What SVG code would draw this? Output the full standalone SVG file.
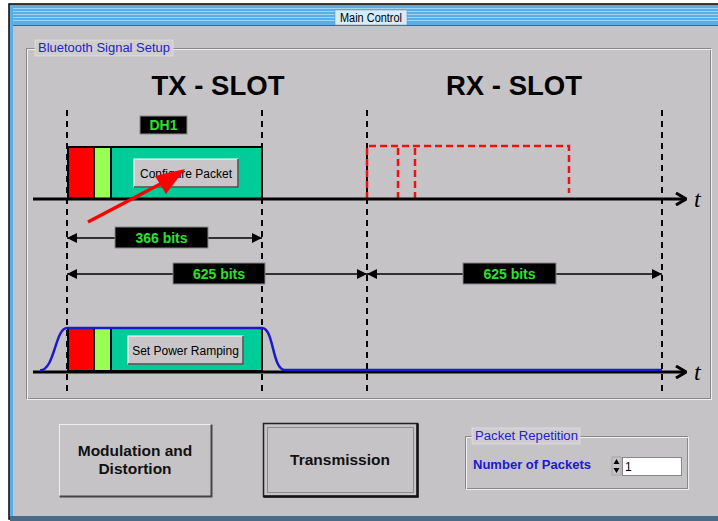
<svg xmlns="http://www.w3.org/2000/svg" width="718" height="521" viewBox="0 0 718 521">
<style>
.ui{font-family:"Liberation Sans",Arial,sans-serif}
.slot{font-family:"Liberation Sans",Arial,sans-serif;font-weight:bold;font-size:27.5px;fill:#000}
.dash{stroke:#000;stroke-width:2;stroke-dasharray:6,5}
.axis{stroke:#000;stroke-width:3}
.dim{stroke:#000;stroke-width:1.5}
.lbl{fill:#000;stroke:#888;stroke-width:1}
.lbltxt{font-family:"Liberation Sans",Arial,sans-serif;font-weight:bold;font-size:14px;fill:#2ee02e;text-anchor:middle}
.btntxt{font-family:"Liberation Sans",Arial,sans-serif;font-size:12px;fill:#000;text-anchor:middle}
.big{font-family:"Liberation Sans",Arial,sans-serif;font-weight:bold;font-size:15.5px;fill:#111;text-anchor:middle}
.pk{stroke:#000;stroke-width:2}
.tt{font-family:"Liberation Serif",serif;font-style:italic;font-size:24px;fill:#000}
</style>
<defs>
<marker id="ah" viewBox="0 0 10 10" refX="10" refY="5" markerWidth="10" markerHeight="10" markerUnits="userSpaceOnUse" orient="auto"><path d="M0,0 L10,5 L0,10 z" fill="#000"/></marker>
<marker id="ahs" viewBox="0 0 10 10" refX="10" refY="5" markerWidth="10" markerHeight="10" markerUnits="userSpaceOnUse" orient="auto-start-reverse"><path d="M0,0 L10,5 L0,10 z" fill="#000"/></marker>
<marker id="ta" viewBox="0 0 12 14" refX="11" refY="7" markerWidth="12" markerHeight="14" markerUnits="userSpaceOnUse" orient="auto"><path d="M1,1 L11,7 L1,13" fill="none" stroke="#000" stroke-width="3"/></marker>
</defs>
<rect width="718" height="521" fill="#fff"/>
<g id="window">
<rect x="9" y="4" width="712" height="515" fill="#c6c3c6" stroke="#000" stroke-width="1.5"/>
<rect x="10" y="5" width="708" height="21" fill="#5aaee8"/>
<g stroke="#9fd6f8" stroke-width="1">
<line x1="10" y1="8.5" x2="718" y2="8.5"/><line x1="10" y1="11.5" x2="718" y2="11.5"/><line x1="10" y1="14.5" x2="718" y2="14.5"/><line x1="10" y1="17.5" x2="718" y2="17.5"/><line x1="10" y1="20.5" x2="718" y2="20.5"/>
</g>
<line x1="10" y1="25.5" x2="718" y2="25.5" stroke="#3a6a90" stroke-width="1"/>
<rect x="10" y="5" width="3" height="514" fill="#5aaee8"/>
<rect x="10" y="516" width="708" height="5" fill="#4a6a88"/>
<rect x="335" y="10" width="72" height="15" fill="#d8ecf8" stroke="#6a8aa8" stroke-width="0.5"/>
<text x="371" y="22" class="ui" font-size="12" text-anchor="middle" fill="#000" textLength="62" lengthAdjust="spacingAndGlyphs">Main Control</text>
</g>
<g id="signal-setup">
<rect x="26.5" y="48.5" width="684" height="350" fill="none" stroke="#8a888a" stroke-width="1"/>
<rect x="27.5" y="49.5" width="684" height="350" fill="none" stroke="#eee" stroke-width="1"/>
<rect x="35" y="40" width="138" height="16" fill="#cfcdd2" stroke="#eee" stroke-width="0.5"/>
<text x="38" y="52" class="ui" font-size="12.5" fill="#2222cc" textLength="132" lengthAdjust="spacingAndGlyphs">Bluetooth Signal Setup</text>
<text x="218" y="95" class="slot" text-anchor="middle">TX - SLOT</text>
<text x="514" y="95" class="slot" text-anchor="middle">RX - SLOT</text>
</g>
<g id="boundaries">
<line x1="67" y1="110" x2="67" y2="392" class="dash"/>
<line x1="262" y1="110" x2="262" y2="392" class="dash"/>
<line x1="367" y1="110" x2="367" y2="392" class="dash"/>
<line x1="662" y1="110" x2="662" y2="392" class="dash"/>
</g>
<g id="tx-packet">
<rect x="111" y="147" width="151" height="52" fill="#00cc99" class="pk"/>
<rect x="68" y="147" width="26" height="52" fill="#ff0000" class="pk"/>
<rect x="94" y="147" width="17" height="52" fill="#99ff55" class="pk"/>
</g>
<g id="dh1">
<rect x="140" y="116" width="47" height="18" class="lbl"/>
<text x="163.5" y="130" class="lbltxt">DH1</text>
</g>
<g id="configure-packet">
<rect x="134" y="159" width="104" height="28" fill="#c8c6c8" stroke="#fff" stroke-width="1"/>
<path d="M238,159 V187 H134" fill="none" stroke="#444" stroke-width="1.5"/>
<text x="186" y="178" class="btntxt">Configure Packet</text>
</g>
<g id="rx-packet" fill="none" stroke="#ee1111" stroke-width="2.5" stroke-dasharray="7,4">
<path d="M367,199 V146 H569 V193"/>
<line x1="398" y1="148" x2="398" y2="199"/>
<line x1="415" y1="148" x2="415" y2="199"/>
</g>
<g id="axis-top">
<line x1="33" y1="199" x2="686" y2="199" class="axis" marker-end="url(#ta)"/>
<text x="694" y="207" class="tt">t</text>
</g>
<g id="pointer">
<line x1="88" y1="222" x2="168" y2="180" stroke="#ff0000" stroke-width="3.5"/>
<path d="M185,169 L155,176 L166,194 z" fill="#ff0000"/>
</g>
<g id="connectors">
<line x1="67" y1="238" x2="262" y2="238" class="dim" marker-start="url(#ahs)" marker-end="url(#ah)"/>
<line x1="67" y1="274" x2="367" y2="274" class="dim" marker-start="url(#ahs)" marker-end="url(#ah)"/>
<line x1="367" y1="274" x2="662" y2="274" class="dim" marker-start="url(#ahs)" marker-end="url(#ah)"/>
</g>
<g id="dim-366">
<rect x="115" y="227" width="93" height="21" class="lbl"/>
<text x="161.5" y="243" class="lbltxt">366 bits</text>
</g>
<g id="dim-625-tx">
<rect x="173" y="263" width="92" height="21" class="lbl"/>
<text x="219" y="279" class="lbltxt">625 bits</text>
</g>
<g id="dim-625-rx">
<rect x="463" y="263" width="93" height="21" class="lbl"/>
<text x="509.5" y="279" class="lbltxt">625 bits</text>
</g>
<g id="ramp-packet">
<rect x="111" y="328" width="151" height="43" fill="#00cc99" class="pk"/>
<rect x="68" y="328" width="26" height="43" fill="#ff0000" class="pk"/>
<rect x="94" y="328" width="17" height="43" fill="#99ff55" class="pk"/>
</g>
<g id="set-power-ramping">
<rect x="128" y="336" width="115" height="28" fill="#c8c6c8" stroke="#fff" stroke-width="1"/>
<path d="M243,336 V364 H128" fill="none" stroke="#444" stroke-width="1.5"/>
<text x="185.5" y="355" class="btntxt">Set Power Ramping</text>
</g>
<g id="axis-bottom">
<line x1="33" y1="372" x2="686" y2="372" class="axis" marker-end="url(#ta)"/>
<path d="M40,370.5 C55,370 55,328 67,328 L262,328 C274,328 272,370 285,370 L662,370" fill="none" stroke="#1a1acc" stroke-width="2.5"/>
<text x="694" y="380" class="tt">t</text>
</g>
<g id="btn-modulation">
<rect x="59.5" y="424.5" width="152" height="72" fill="#c6c3c6" stroke="#eee" stroke-width="1"/>
<path d="M211.5,424.5 V496.5 H59.5" fill="none" stroke="#444" stroke-width="2"/>
<text x="135" y="456" class="big">Modulation and</text>
<text x="135" y="474" class="big">Distortion</text>
</g>
<g id="btn-transmission">
<rect x="263.5" y="423.5" width="154" height="73" fill="#c6c3c6" stroke="#222" stroke-width="1.5"/>
<path d="M417.5,423.5 V496.5 H263.5" fill="none" stroke="#111" stroke-width="2.5"/>
<rect x="267.5" y="427.5" width="146" height="65" fill="none" stroke="#555" stroke-width="1" stroke-dasharray="1,1"/>
<text x="340" y="465" class="big">Transmission</text>
</g>
<g id="packet-repetition">
<rect x="465.5" y="436.5" width="222" height="52" fill="none" stroke="#8a888a" stroke-width="1"/>
<rect x="466.5" y="437.5" width="222" height="52" fill="none" stroke="#eee" stroke-width="1"/>
<rect x="472" y="428" width="108" height="16" fill="#cfcdd2" stroke="#eee" stroke-width="0.5"/>
<text x="475" y="440" class="ui" font-size="12.5" fill="#2222cc" textLength="103" lengthAdjust="spacingAndGlyphs">Packet Repetition</text>
<text x="473" y="469" class="ui" font-size="13" font-weight="bold" fill="#1a1acc" textLength="118" lengthAdjust="spacingAndGlyphs">Number of Packets</text>
<rect x="612" y="457" width="9" height="18" fill="#c6c3c6" stroke="#888" stroke-width="0.5"/>
<path d="M613.5,464 L616.5,459 L619.5,464 z M613.5,468 L616.5,473 L619.5,468 z" fill="#000"/>
<rect x="622.5" y="457.5" width="59" height="18" fill="#fff" stroke="#888" stroke-width="1"/>
<text x="625" y="471" class="ui" font-size="12" fill="#000">1</text>
</g>
</svg>
